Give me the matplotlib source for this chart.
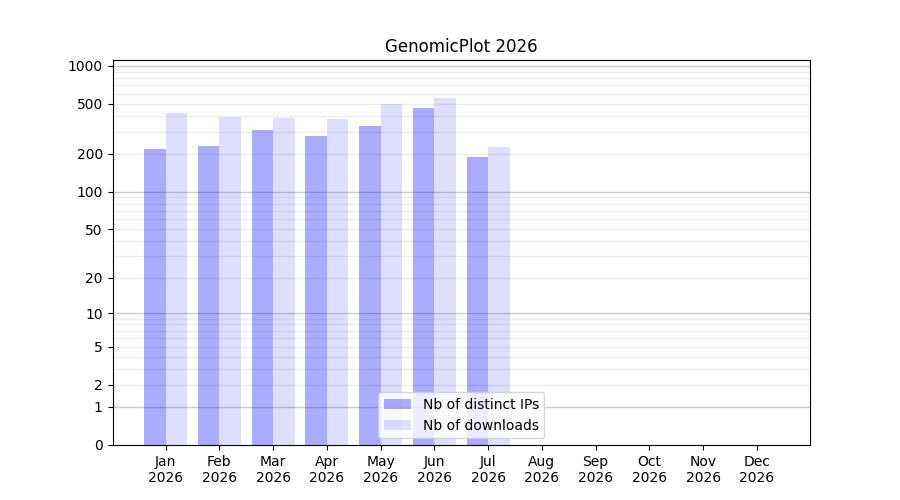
import numpy as np
import matplotlib
matplotlib.use("Agg")
import matplotlib.pyplot as plt

months = ['Jan', 'Feb', 'Mar', 'Apr', 'May', 'Jun',
          'Jul', 'Aug', 'Sep', 'Oct', 'Nov', 'Dec']
year = 2026
distinct_ips = [218, 232, 310, 278, 333, 463, 189, 0, 0, 0, 0, 0]
downloads = [423, 394, 387, 380, 502, 557, 227, 0, 0, 0, 0, 0]
y_ticks = [0, 1, 2, 5, 10, 20, 50, 100, 200, 500, 1000]


def fwd(y):
    return np.log10(np.asarray(y, dtype=float) + 1)


def inv(y):
    return 10 ** np.asarray(y, dtype=float) - 1


fig, ax = plt.subplots(figsize=(9, 5), dpi=100)
x = np.arange(len(months))
w = 0.4

# grille log "à la main"
major = [1, 10, 100, 1000]
minor = [m * d for d in (1, 10, 100) for m in range(2, 10)]
for v in minor:
    ax.axhline(v, color='#eeeeee', lw=1, zorder=0)
for v in major:
    ax.axhline(v, color='#cccccc', lw=1, zorder=0)

ax.bar(x - w / 2, distinct_ips, width=w, color='blue', alpha=0.33,
       label='Nb of distinct IPs', zorder=2)
ax.bar(x + w / 2, downloads, width=w, color='blue', alpha=0.13,
       label='Nb of downloads', zorder=2)

ax.set_yscale('function', functions=(fwd, inv))
ax.set_ylim(0, 1110)
ax.set_yticks(y_ticks)
ax.set_yticklabels([str(t) for t in y_ticks])
ax.yaxis.set_minor_locator(matplotlib.ticker.NullLocator())

ax.set_xticks(x)
ax.set_xticklabels([f'{m}\n{year}' for m in months])
ax.set_xlim(-0.99, 11.99)

ax.set_title(f'GenomicPlot {year}')
ax.legend(loc='lower center')
fig.savefig('out.png')
